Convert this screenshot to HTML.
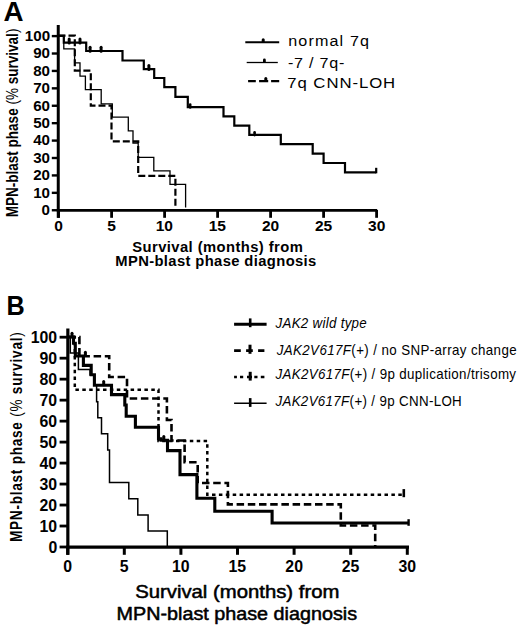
<!DOCTYPE html>
<html><head><meta charset="utf-8"><style>
html,body{margin:0;padding:0;background:#fff;width:520px;height:627px;overflow:hidden}
svg{display:block}
text{font-family:"Liberation Sans", sans-serif;fill:#000}
</style></head><body>
<svg width="520" height="627" viewBox="0 0 520 627">
<rect width="520" height="627" fill="#fff"/>
<g fill="none" stroke="#000" stroke-linecap="butt" stroke-linejoin="miter">
<path d="M58.25 25 V217.8" stroke-width="3"/>
<path d="M56.8 210.3 H377.2" stroke-width="2.8"/>
<path d="M51.8 210.25 H58" stroke-width="2.4"/>
<path d="M51.8 192.84 H58" stroke-width="2.4"/>
<path d="M51.8 175.42 H58" stroke-width="2.4"/>
<path d="M51.8 158.00 H58" stroke-width="2.4"/>
<path d="M51.8 140.59 H58" stroke-width="2.4"/>
<path d="M51.8 123.17 H58" stroke-width="2.4"/>
<path d="M51.8 105.76 H58" stroke-width="2.4"/>
<path d="M51.8 88.34 H58" stroke-width="2.4"/>
<path d="M51.8 70.93 H58" stroke-width="2.4"/>
<path d="M51.8 53.51 H58" stroke-width="2.4"/>
<path d="M51.8 36.10 H58" stroke-width="2.4"/>
<path d="M58.60 210 V217.8" stroke-width="2.8"/>
<path d="M111.60 210 V217.8" stroke-width="2.8"/>
<path d="M164.60 210 V217.8" stroke-width="2.8"/>
<path d="M217.60 210 V217.8" stroke-width="2.8"/>
<path d="M270.60 210 V217.8" stroke-width="2.8"/>
<path d="M323.60 210 V217.8" stroke-width="2.8"/>
<path d="M376.60 210 V217.8" stroke-width="2.8"/>
<path d="M58.5 35.8 H63.8 V42.6 H86.2 V51 H122.5 V60.5 H143.8 V69.2 H154.2 V78 H164.3 V87.2 H175.4 V96.9 H187.8 V107.1 H223.5 V116.3 H234.3 V125.6 H249.3 V134.8 H280.8 V144.2 H312.7 V153.6 H323.6 V163 H345 V172.3 H376.2" stroke-width="2.2"/>
<path d="M69.20 42.90 V38.90" stroke-width="3" stroke-linecap="round"/><path d="M80.00 42.90 V38.90" stroke-width="3" stroke-linecap="round"/><path d="M90.10 51.30 V47.30" stroke-width="3" stroke-linecap="round"/><path d="M101.10 51.30 V47.30" stroke-width="3" stroke-linecap="round"/><path d="M148.90 69.50 V65.50" stroke-width="3" stroke-linecap="round"/>
<path d="M190.20 107.40 V104.60" stroke-width="2.6" stroke-linecap="round"/><path d="M254.60 135.10 V132.30" stroke-width="2.6" stroke-linecap="round"/>
<path d="M376.2 173.3 V167.8" stroke-width="2.2"/>
<path d="M58.5 35.8 H63.8 V48.8 H74.6 V62.8 H80 V76.2 H85.4 V89.7 H101.2 V103.8 H112.3 V117.2 H128.3 V130.8 H133 V143 H138.2 V157.4 H153.8 V170.9 H170 V184.4 H185.6 V207.5" stroke-width="1.3"/>
<path d="M58.5 35.6 H74.8 V70.7 H90.8 V105.6 H111.5 V141.3 H138.2 V175.8 H175.4 V206" stroke-width="2.2" stroke-dasharray="7 3"/>
<path d="M245.3 42.25 H279.2" stroke-width="1.8"/>
<path d="M263.20 41.25 V39.75" stroke-width="3" stroke-linecap="round"/>
<path d="M246.7 62.5 H277.8" stroke-width="1.3"/>
<path d="M264.40 61.60 V59.90" stroke-width="2.8" stroke-linecap="round"/>
<path d="M248.1 81.2 H255.8 M259.1 81.2 H268.2 M271.1 81.2 H279.2" stroke-width="2.2"/>
<path d="M265.80 80.20 V78.40" stroke-width="3" stroke-linecap="round"/>
<path d="M67.85 328.5 V554.8" stroke-width="3.2"/>
<path d="M66.3 547.1 H409" stroke-width="3.3"/>
<path d="M59.6 547.00 H67.5" stroke-width="2.8"/>
<path d="M59.6 526.02 H67.5" stroke-width="2.8"/>
<path d="M59.6 505.04 H67.5" stroke-width="2.8"/>
<path d="M59.6 484.06 H67.5" stroke-width="2.8"/>
<path d="M59.6 463.08 H67.5" stroke-width="2.8"/>
<path d="M59.6 442.10 H67.5" stroke-width="2.8"/>
<path d="M59.6 421.12 H67.5" stroke-width="2.8"/>
<path d="M59.6 400.14 H67.5" stroke-width="2.8"/>
<path d="M59.6 379.16 H67.5" stroke-width="2.8"/>
<path d="M59.6 358.18 H67.5" stroke-width="2.8"/>
<path d="M59.6 337.20 H67.5" stroke-width="2.8"/>
<path d="M67.70 547 V554.8" stroke-width="3"/>
<path d="M124.30 547 V554.8" stroke-width="3"/>
<path d="M180.90 547 V554.8" stroke-width="3"/>
<path d="M237.50 547 V554.8" stroke-width="3"/>
<path d="M294.10 547 V554.8" stroke-width="3"/>
<path d="M350.70 547 V554.8" stroke-width="3"/>
<path d="M407.30 547 V554.8" stroke-width="3"/>
<path d="M68 337 H70.3 V353 H78.4 V369.4 H90 V375 H94.4 V385.2 H96.6 V401.8 H97.8 V417.7 H101.5 V433.8 H107.7 V450 H109.5 V482.6 H128.8 V498.8 H137.8 V514.9 H148.1 V531.1 H167.3 V546" stroke-width="1.5"/>
<path d="M68 337 H74.8 V389.8 H158.5 V441 H207.3 V494.7 H403.8" stroke-width="2.5" stroke-dasharray="3.5 3.4" stroke-dashoffset="1.9"/>
<path d="M403.8 489.1 V497.2" stroke-width="2.6"/>
<path d="M68 337 H79.4 V356.2 H109.2 V377 H127 V398.5 H166.9 V420 H171.5 V440.5 H184.6 V462.3 H197.7 V483 H227.9 V504.4 H340.8 V525.5 H375.2 V547" stroke-width="2.6" stroke-dasharray="7.5 3.7"/>
<path d="M68 337 H73.5 V343.2 H75.3 V356 H83.4 V365.4 H91.2 V374.7 H94.4 V385.2 H111.5 V394.6 H124.8 V405 H126.2 V416.2 H135.4 V427.2 H158.5 V438.8 H161 V440.3 H167.5 V450.6 H180 V474.6 H196.9 V498.2 H214.8 V511.2 H272.1 V523 H408.8" stroke-width="3.1"/>
<path d="M72.00 336.50 V333.30" stroke-width="3" stroke-linecap="round"/><path d="M85.40 355.50 V352.30" stroke-width="3" stroke-linecap="round"/><path d="M103.70 384.70 V381.50" stroke-width="3" stroke-linecap="round"/><path d="M163.80 439.80 V436.60" stroke-width="3" stroke-linecap="round"/>
<path d="M408.6 519.2 V525.8" stroke-width="2.4"/>
<path d="M234.1 324.3 H266.6" stroke-width="3.1"/>
<path d="M250.2 318.4 V327.2" stroke-width="2.6"/>
<path d="M234.1 350.6 H264.4" stroke-width="2.6" stroke-dasharray="6.7 5.3"/>
<path d="M250 344.7 V353.8" stroke-width="3"/>
<path d="M234.1 377.1 H236.9 M240 377.1 H243.2 M247 377.1 H252 M254.3 377.1 H257.5 M260.8 377.1 H264.4" stroke-width="2.5"/>
<path d="M250.2 371.8 V380.6" stroke-width="3"/>
<path d="M234.1 403.2 H266.6" stroke-width="1.5"/>
<path d="M250.2 398.1 V406.9" stroke-width="2.6"/>
</g>
<g>
<text transform="translate(3.53 20.80) scale(1.0278 1)" font-weight="bold" font-size="27" fill="#000" xml:space="preserve"><tspan>A</tspan></text>
<text transform="translate(41.57 215.15) scale(1.0800 1)" font-weight="bold" font-size="14" fill="#000" xml:space="preserve"><tspan>0</tspan></text>
<text transform="translate(33.20 197.74) scale(1.0800 1)" font-weight="bold" font-size="14" fill="#000" xml:space="preserve"><tspan>10</tspan></text>
<text transform="translate(33.20 180.32) scale(1.0800 1)" font-weight="bold" font-size="14" fill="#000" xml:space="preserve"><tspan>20</tspan></text>
<text transform="translate(33.20 162.91) scale(1.0800 1)" font-weight="bold" font-size="14" fill="#000" xml:space="preserve"><tspan>30</tspan></text>
<text transform="translate(33.20 145.49) scale(1.0800 1)" font-weight="bold" font-size="14" fill="#000" xml:space="preserve"><tspan>40</tspan></text>
<text transform="translate(33.20 128.07) scale(1.0800 1)" font-weight="bold" font-size="14" fill="#000" xml:space="preserve"><tspan>50</tspan></text>
<text transform="translate(33.20 110.66) scale(1.0800 1)" font-weight="bold" font-size="14" fill="#000" xml:space="preserve"><tspan>60</tspan></text>
<text transform="translate(33.20 93.25) scale(1.0800 1)" font-weight="bold" font-size="14" fill="#000" xml:space="preserve"><tspan>70</tspan></text>
<text transform="translate(33.20 75.83) scale(1.0800 1)" font-weight="bold" font-size="14" fill="#000" xml:space="preserve"><tspan>80</tspan></text>
<text transform="translate(33.20 58.41) scale(1.0800 1)" font-weight="bold" font-size="14" fill="#000" xml:space="preserve"><tspan>90</tspan></text>
<text transform="translate(24.83 41.00) scale(1.0800 1)" font-weight="bold" font-size="14" fill="#000" xml:space="preserve"><tspan>100</tspan></text>
<text transform="translate(54.28 231.40) scale(1.0800 1)" font-weight="bold" font-size="14.4" fill="#000" xml:space="preserve"><tspan>0</tspan></text>
<text transform="translate(107.28 231.40) scale(1.0800 1)" font-weight="bold" font-size="14.4" fill="#000" xml:space="preserve"><tspan>5</tspan></text>
<text transform="translate(155.69 231.40) scale(1.0800 1)" font-weight="bold" font-size="14.4" fill="#000" xml:space="preserve"><tspan>10</tspan></text>
<text transform="translate(208.69 231.40) scale(1.0800 1)" font-weight="bold" font-size="14.4" fill="#000" xml:space="preserve"><tspan>15</tspan></text>
<text transform="translate(261.96 231.40) scale(1.0800 1)" font-weight="bold" font-size="14.4" fill="#000" xml:space="preserve"><tspan>20</tspan></text>
<text transform="translate(314.96 231.40) scale(1.0800 1)" font-weight="bold" font-size="14.4" fill="#000" xml:space="preserve"><tspan>25</tspan></text>
<text transform="translate(368.10 231.40) scale(1.0800 1)" font-weight="bold" font-size="14.4" fill="#000" xml:space="preserve"><tspan>30</tspan></text>
<text transform="translate(17.50 217.32) rotate(-90) scale(0.8206 1)" font-weight="bold" font-size="16.5" fill="#000" xml:space="preserve"><tspan>MPN-blast phase </tspan><tspan font-weight="normal">(%</tspan><tspan> survival</tspan><tspan font-weight="normal">)</tspan></text>
<text transform="translate(132.27 251.80) scale(1.0700 1)" font-weight="bold" font-size="13.8" fill="#000" letter-spacing="0.399" xml:space="preserve"><tspan>Survival (months) from</tspan></text>
<text transform="translate(115.23 266.40) scale(1.0700 1)" font-weight="bold" font-size="13.8" fill="#000" letter-spacing="0.359" xml:space="preserve"><tspan>MPN-blast phase diagnosis</tspan></text>
<text transform="translate(288.16 46.30) scale(1.0400 1)" font-weight="normal" font-size="15.5" fill="#2b2b2b" letter-spacing="1.108" xml:space="preserve"><tspan>normal 7q</tspan></text>
<text transform="translate(287.97 67.60) scale(1.0400 1)" font-weight="normal" font-size="15.5" fill="#2b2b2b" letter-spacing="0.734" xml:space="preserve"><tspan>-7 / 7q-</tspan></text>
<text transform="translate(287.29 88.20) scale(1.0800 1)" font-weight="normal" font-size="15.5" fill="#2b2b2b" letter-spacing="0.867" xml:space="preserve"><tspan>7q CNN-LOH</tspan></text>
<text transform="translate(6.47 314.80) scale(0.9333 1)" font-weight="bold" font-size="27" fill="#000" xml:space="preserve"><tspan>B</tspan></text>
<text transform="translate(48.44 552.50) scale(0.9600 1)" font-weight="bold" font-size="16.5" fill="#000" xml:space="preserve"><tspan>0</tspan></text>
<text transform="translate(39.56 531.52) scale(0.9600 1)" font-weight="bold" font-size="16.5" fill="#000" xml:space="preserve"><tspan>10</tspan></text>
<text transform="translate(39.56 510.54) scale(0.9600 1)" font-weight="bold" font-size="16.5" fill="#000" xml:space="preserve"><tspan>20</tspan></text>
<text transform="translate(39.56 489.56) scale(0.9600 1)" font-weight="bold" font-size="16.5" fill="#000" xml:space="preserve"><tspan>30</tspan></text>
<text transform="translate(39.56 468.58) scale(0.9600 1)" font-weight="bold" font-size="16.5" fill="#000" xml:space="preserve"><tspan>40</tspan></text>
<text transform="translate(39.56 447.60) scale(0.9600 1)" font-weight="bold" font-size="16.5" fill="#000" xml:space="preserve"><tspan>50</tspan></text>
<text transform="translate(39.56 426.62) scale(0.9600 1)" font-weight="bold" font-size="16.5" fill="#000" xml:space="preserve"><tspan>60</tspan></text>
<text transform="translate(39.56 405.64) scale(0.9600 1)" font-weight="bold" font-size="16.5" fill="#000" xml:space="preserve"><tspan>70</tspan></text>
<text transform="translate(39.56 384.66) scale(0.9600 1)" font-weight="bold" font-size="16.5" fill="#000" xml:space="preserve"><tspan>80</tspan></text>
<text transform="translate(39.56 363.68) scale(0.9600 1)" font-weight="bold" font-size="16.5" fill="#000" xml:space="preserve"><tspan>90</tspan></text>
<text transform="translate(30.68 342.70) scale(0.9600 1)" font-weight="bold" font-size="16.5" fill="#000" xml:space="preserve"><tspan>100</tspan></text>
<text transform="translate(63.26 571.60) scale(0.9600 1)" font-weight="bold" font-size="16.5" fill="#000" xml:space="preserve"><tspan>0</tspan></text>
<text transform="translate(119.86 571.60) scale(0.9600 1)" font-weight="bold" font-size="16.5" fill="#000" xml:space="preserve"><tspan>5</tspan></text>
<text transform="translate(171.90 571.60) scale(0.9600 1)" font-weight="bold" font-size="16.5" fill="#000" xml:space="preserve"><tspan>10</tspan></text>
<text transform="translate(228.38 571.60) scale(0.9600 1)" font-weight="bold" font-size="16.5" fill="#000" xml:space="preserve"><tspan>15</tspan></text>
<text transform="translate(285.34 571.60) scale(0.9600 1)" font-weight="bold" font-size="16.5" fill="#000" xml:space="preserve"><tspan>20</tspan></text>
<text transform="translate(341.82 571.60) scale(0.9600 1)" font-weight="bold" font-size="16.5" fill="#000" xml:space="preserve"><tspan>25</tspan></text>
<text transform="translate(398.54 571.60) scale(0.9600 1)" font-weight="bold" font-size="16.5" fill="#000" xml:space="preserve"><tspan>30</tspan></text>
<text transform="translate(21.80 542.06) rotate(-90) scale(0.8600 1)" font-weight="bold" font-size="15.8" fill="#000" letter-spacing="0.882" xml:space="preserve"><tspan>MPN-blast phase </tspan><tspan font-weight="normal">(%</tspan><tspan> survival</tspan><tspan font-weight="normal">)</tspan></text>
<text transform="translate(135.13 598.40) scale(1.1543 1)" font-weight="normal" font-size="17.6" fill="#000" stroke="#000" stroke-width="0.5" stroke-linejoin="round" xml:space="preserve"><tspan>Survival (months) from</tspan></text>
<text transform="translate(116.62 619.60) scale(1.1226 1)" font-weight="normal" font-size="17.6" fill="#000" stroke="#000" stroke-width="0.5" stroke-linejoin="round" xml:space="preserve"><tspan>MPN-blast phase diagnosis</tspan></text>
<text transform="translate(275.50 327.50) scale(0.9200 1)" font-weight="normal" font-size="14.5" fill="#2b2b2b" letter-spacing="0.319" xml:space="preserve"><tspan font-style="italic">JAK2 wild type</tspan></text>
<text transform="translate(276.70 354.80) scale(0.9200 1)" font-weight="normal" font-size="14.5" fill="#2b2b2b" letter-spacing="0.421" xml:space="preserve"><tspan font-style="italic">JAK2</tspan><tspan font-style="italic">V617F</tspan><tspan>(+) / no SNP-array change</tspan></text>
<text transform="translate(275.40 379.20) scale(0.9200 1)" font-weight="normal" font-size="14.5" fill="#2b2b2b" letter-spacing="0.386" xml:space="preserve"><tspan font-style="italic">JAK2</tspan><tspan font-style="italic">V617F</tspan><tspan>(+) / 9p duplication/trisomy</tspan></text>
<text transform="translate(275.40 405.50) scale(0.9200 1)" font-weight="normal" font-size="14.5" fill="#2b2b2b" letter-spacing="0.370" xml:space="preserve"><tspan font-style="italic">JAK2</tspan><tspan font-style="italic">V617F</tspan><tspan>(+) / 9p CNN-LOH</tspan></text>
</g>
</svg>
</body></html>
